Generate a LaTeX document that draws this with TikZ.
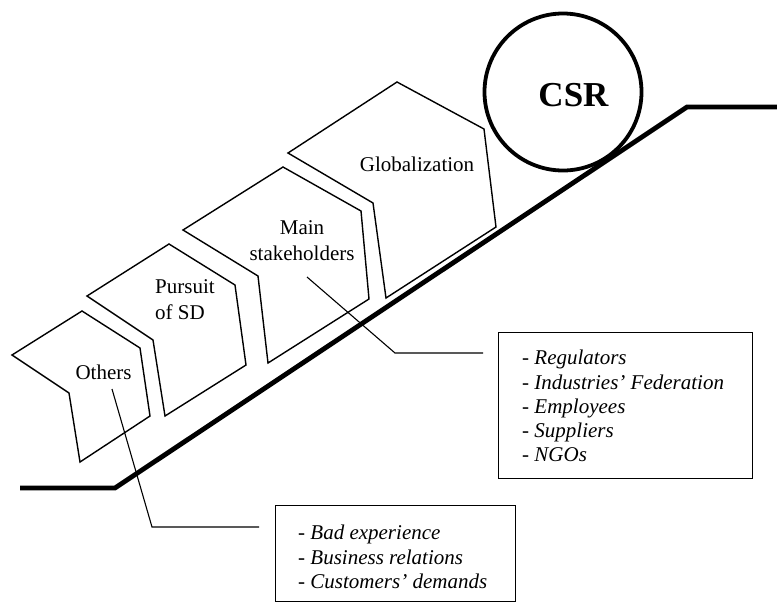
\documentclass[tikz,border=0pt]{standalone}
\usepackage{fontspec}
\setmainfont{Liberation Serif}
\begin{document}
\begin{tikzpicture}[x=1pt,y=-1pt,
  ground/.style={line width=4.8pt, line join=miter},
  chevron/.style={line width=1.4pt, line join=miter},
  label/.style={font=\fontsize{21}{26}\selectfont, inner sep=0pt},
  listbox/.style={draw, line width=1.4pt, inner sep=0pt, anchor=north west},
  listtext/.style={font=\fontsize{21}{24.3}\selectfont\itshape, align=left, inner sep=0pt, anchor=north west},
  leader/.style={line width=1.1pt}]
\useasboundingbox (0,0) rectangle (777,603);

% the slope
\draw[ground] (20,488) -- (115,488) -- (687,107) -- (777,107);

% the ball at the top
\node[draw, circle, line width=3.8pt, minimum size=157pt, inner sep=0pt] (csr) at (563,92) {};
\node[font=\fontsize{35}{40}\selectfont\bfseries, inner sep=0pt] (csrtext) at (573.5,95) {CSR};

% the four pushing blocks
\draw[chevron] (12,355) -- (82,311) -- (140,348) -- (150,416) -- (80,462) -- (69,393) -- cycle;
\draw[chevron] (87,296) -- (169,244) -- (235,285) -- (246,365) -- (165,416) -- (153,340) -- cycle;
\draw[chevron] (183,230) -- (283,167) -- (361,211) -- (369,299) -- (268,363) -- (258,276) -- cycle;
\draw[chevron] (288,153) -- (397,82) -- (484,129) -- (496,227) -- (386,298) -- (373,203) -- cycle;

\node[label] (others) at (103.5,372) {Others};
\node[label, align=left, anchor=north west] (pursuit) at (155,279) {Pursuit\\of SD};
\node[label, align=center] (mainsh) at (302,241) {Main\\stakeholders};
\node[label] (glob) at (417,164) {Globalization};

% detail boxes
\node[listbox, minimum width=254pt, minimum height=146pt] (stakebox) at (498,332) {};
\node[listtext] (staketext) at (522,350) {- Regulators\\- Industries' Federation\\- Employees\\- Suppliers\\- NGOs};

\node[listbox, minimum width=240pt, minimum height=96pt] (othbox) at (275,505) {};
\node[listtext] (othtext) at (298,525) {- Bad experience\\- Business relations\\- Customers' demands};

% leader lines
\coordinate (mainpt) at (307,277);
\coordinate (mainend) at (483,353);
\coordinate (othpt) at (112,389);
\coordinate (othend) at (259,527);
\draw[leader] (mainpt) -- (395,353) -- (mainend);
\draw[leader] (othpt) -- (152,527) -- (othend);
\end{tikzpicture}
\end{document}
